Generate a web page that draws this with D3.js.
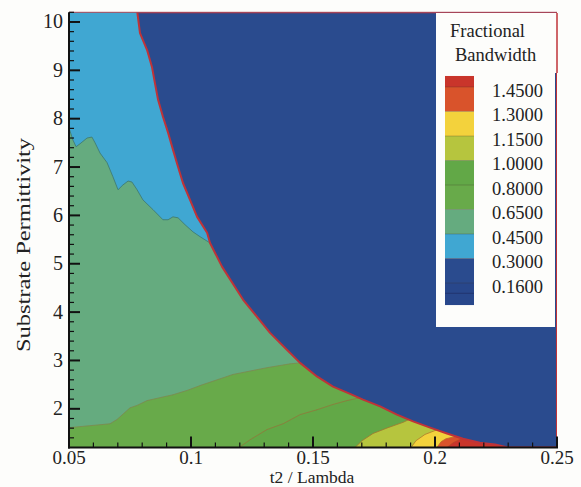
<!DOCTYPE html>
<html>
<head>
<meta charset="utf-8">
<script src="https://cdn.jsdelivr.net/npm/d3@7"></script>
<style>
  html, body { margin: 0; padding: 0; background: #fdfdfb; }
  svg { display: block; }
  text { font-family: "Liberation Serif", "Times New Roman", serif; fill: #222; }
</style>
</head>
<body>
<svg id="chart" width="581" height="487"></svg>
<script>
// Axis ranges and ticks
const xDomain = [0.05, 0.25];
const yDomain = [1.2, 10.2];
const xTicks = [0.05, 0.1, 0.15, 0.2, 0.25];
const yTicks = [2, 3, 4, 5, 6, 7, 8, 9, 10];

// Contour levels shown in the legend (top to bottom) and band colours
const levels = [1.45, 1.30, 1.15, 1.00, 0.80, 0.65, 0.45, 0.30, 0.16];
const bandColors = ["#c9352b", "#d9532b", "#f3d23c", "#b6c53e", "#62a847",
                    "#68aa4a", "#65ab7f", "#40a7d2", "#2a4b8e", "#28478b"];

// Edge of the low-bandwidth zone (jump to < 0.30), [t2/lambda, permittivity]
const blueEdge = [[0.078,10.2],[0.0791,9.77],[0.0820,9.42],[0.0840,9.07],[0.0852,8.74],
  [0.0865,8.39],[0.0885,8.04],[0.0906,7.71],[0.0926,7.36],[0.0947,7.00],[0.0967,6.67],
  [0.0996,6.32],[0.1025,5.97],[0.1066,5.64],[0.1078,5.43],[0.1127,4.94],[0.1213,4.26],
  [0.1324,3.57],[0.1393,3.22],[0.1447,2.95],[0.1516,2.67],[0.1582,2.46],[0.1652,2.31],
  [0.1705,2.19],[0.1775,2.05],[0.1844,1.88],[0.1910,1.74],[0.1980,1.61],[0.2049,1.49],
  [0.2115,1.38],[0.2184,1.30],[0.2246,1.26],[0.2299,1.2]];

// Iso-lines of fractional bandwidth
const contour045 = [[0.05,7.81],[0.0516,7.56],[0.0529,7.42],[0.0545,7.48],[0.0574,7.60],
  [0.0594,7.62],[0.0607,7.50],[0.0627,7.29],[0.0656,7.09],[0.0680,6.80],[0.0701,6.53],
  [0.0721,6.63],[0.0742,6.71],[0.0758,6.69],[0.0779,6.53],[0.0803,6.32],[0.0844,6.12],
  [0.0885,5.91],[0.0906,5.91],[0.0926,5.97],[0.0947,5.95],[0.0975,5.81],[0.1008,5.66],
  [0.1037,5.56],[0.1078,5.43]];
const contour065 = [[0.05,1.61],[0.0668,1.69],[0.0697,1.78],[0.0750,2.02],[0.0779,2.07],
  [0.0820,2.17],[0.0873,2.23],[0.0926,2.29],[0.0984,2.38],[0.1037,2.48],[0.1172,2.71],
  [0.1311,2.85],[0.1406,2.93],[0.1447,2.95]];
const contour080 = [[0.1197,1.2],[0.1242,1.36],[0.1311,1.57],[0.1377,1.69],[0.1447,1.88],
  [0.1516,1.98],[0.1582,2.09],[0.1639,2.17],[0.1693,2.23]];
const contour100 = [[0.1672,1.2],[0.1701,1.34],[0.1746,1.49],[0.1807,1.61],[0.1869,1.72],
  [0.1898,1.79]];
const contour115 = [[0.1902,1.2],[0.1922,1.34],[0.1959,1.47],[0.2000,1.55],[0.2020,1.59]];
const contour130 = [[0.2008,1.2],[0.2025,1.32],[0.2045,1.38],[0.2086,1.43]];
const contour145 = [[0.2049,1.2],[0.2075,1.30],[0.2100,1.36],[0.2115,1.38]];

const svg = d3.select("#chart");
const x = d3.scaleLinear().domain(xDomain).range([69, 557]);
const y = d3.scaleLinear().domain(yDomain).range([447.5, 12.3]);
const line = d3.line().x(d => x(d[0])).y(d => y(d[1]));

svg.append("defs").append("clipPath").attr("id", "plotClip")
  .append("rect").attr("x", x(xDomain[0])).attr("y", y(yDomain[1]))
  .attr("width", x(xDomain[1]) - x(xDomain[0])).attr("height", y(yDomain[0]) - y(yDomain[1]));

const plot = svg.append("g").attr("clip-path", "url(#plotClip)");

// Base band: 0.45 - 0.65
plot.append("rect").attr("x", x(xDomain[0])).attr("y", y(yDomain[1]))
  .attr("width", x(xDomain[1]) - x(xDomain[0])).attr("height", y(yDomain[0]) - y(yDomain[1]))
  .attr("fill", bandColors[6]);

const TR = [xDomain[1], yDomain[1]], TL = [xDomain[0], yDomain[1]];
const BR = [xDomain[1], yDomain[0]], BL = [xDomain[0], yDomain[0]];

// Filled bands; the low zone is painted over them afterwards
const fills = [
  { pts: contour045.concat([TR, TL]), color: bandColors[7] },
  { pts: contour065.concat([BR, BL]), color: bandColors[5] },
  { pts: contour080.concat([BR]), color: bandColors[4] },
  { pts: contour100.concat([BR]), color: bandColors[3] },
  { pts: contour115.concat([BR]), color: bandColors[2] },
  { pts: contour130.concat([BR]), color: bandColors[1] },
  { pts: contour145.concat([BR]), color: bandColors[0] }
];
fills.forEach(f => {
  plot.append("path").attr("d", line(f.pts) + "Z").attr("fill", f.color);
});

// Iso-lines
const isoLines = [
  { pts: contour045, color: "#3f7a72" },
  { pts: contour065, color: "#7d8a50" },
  { pts: contour080, color: "#8e7a3c" },
  { pts: contour100, color: "#a07a30" },
  { pts: contour115, color: "#b5802c" },
  { pts: contour130, color: "#c0682a" },
  { pts: contour145, color: "#b8442a" }
];
isoLines.forEach(l => {
  plot.append("path").attr("d", line(l.pts)).attr("fill", "none")
    .attr("stroke", l.color).attr("stroke-width", 1).attr("stroke-opacity", 0.85);
});

// Low-bandwidth zone with its red edge
plot.append("path").attr("d", line(blueEdge.concat([BR, TR])) + "Z")
  .attr("fill", bandColors[8]).attr("stroke", "#bf3338").attr("stroke-width", 2)
  .attr("stroke-linejoin", "round");

// Top frame line
svg.append("line").attr("x1", x(xDomain[0])).attr("x2", x(xDomain[1]))
  .attr("y1", y(yDomain[1])).attr("y2", y(yDomain[1]))
  .attr("stroke", "#a8475a").attr("stroke-width", 1);

// Legend panel
const legend = svg.append("g");
legend.append("rect").attr("x", 436).attr("y", 13).attr("width", 119).attr("height", 314)
  .attr("fill", "#fdfdfb");
legend.append("rect").attr("x", 436).attr("y", 13).attr("width", 121).attr("height", 60)
  .attr("fill", "#fdfdfb");
legend.append("line").attr("x1", 557).attr("x2", 557).attr("y1", 13).attr("y2", 73)
  .attr("stroke", "#bf3338").attr("stroke-width", 1.5);
legend.append("text").attr("x", 450).attr("y", 37).attr("font-size", 18.5).text("Fractional");
legend.append("text").attr("x", 455).attr("y", 61).attr("font-size", 18.5).text("Bandwidth");

const ly = d3.scaleLinear().domain([0, levels.length - 1]).range([87, 283]);
const step = ly(1) - ly(0);
const bandEdges = [ly(0) - step * 0.45].concat(levels.map((d, i) => ly(i)), [ly(levels.length - 1) + step * 0.9]);
bandColors.forEach((c, i) => {
  legend.append("rect").attr("x", 445).attr("y", bandEdges[i]).attr("width", 29)
    .attr("height", bandEdges[i + 1] - bandEdges[i]).attr("fill", c);
});
levels.forEach((lv, i) => {
  legend.append("line").attr("x1", 445).attr("x2", 474).attr("y1", ly(i)).attr("y2", ly(i))
    .attr("stroke", "rgba(60,40,30,0.25)").attr("stroke-width", 1);
  legend.append("text").attr("x", 492).attr("y", ly(i) + 9.5).attr("font-size", 18.5)
    .text(d3.format(".4f")(lv));
});
legend.append("line").attr("x1", 445).attr("x2", 474)
  .attr("y1", ly(levels.length - 1) + step * 0.42).attr("y2", ly(levels.length - 1) + step * 0.42)
  .attr("stroke", "rgba(20,20,60,0.35)").attr("stroke-width", 1);

// Axes
const xAxisG = svg.append("g");
xAxisG.append("line").attr("x1", x(xDomain[0]) - 1).attr("x2", x(xDomain[1]) + 1)
  .attr("y1", y(yDomain[0])).attr("y2", y(yDomain[0])).attr("stroke", "#111").attr("stroke-width", 2);
d3.range(0.05, 0.2501, 0.01).forEach(v => {
  const isMajor = xTicks.some(t => Math.abs(t - v) < 1e-6);
  xAxisG.append("line").attr("x1", x(v)).attr("x2", x(v))
    .attr("y1", y(yDomain[0])).attr("y2", y(yDomain[0]) - (isMajor ? 11 : 5))
    .attr("stroke", "#111").attr("stroke-width", isMajor ? 2 : 1.2);
});
xTicks.forEach(v => {
  xAxisG.append("text").attr("x", x(v)).attr("y", 463.5).attr("text-anchor", "middle")
    .attr("font-size", 19).text(String(v));
});
xAxisG.append("text").attr("x", 312).attr("y", 483).attr("text-anchor", "middle")
  .attr("font-size", 17.5).text("t2 / Lambda");

const yAxisG = svg.append("g");
yAxisG.append("line").attr("x1", x(xDomain[0])).attr("x2", x(xDomain[0]))
  .attr("y1", y(yDomain[1])).attr("y2", y(yDomain[0]) + 1).attr("stroke", "#111").attr("stroke-width", 2);
d3.range(1.4, 10.201, 0.2).forEach(v => {
  const isMajor = yTicks.some(t => Math.abs(t - v) < 1e-6);
  yAxisG.append("line").attr("x1", x(xDomain[0])).attr("x2", x(xDomain[0]) + (isMajor ? 11 : 5))
    .attr("y1", y(v)).attr("y2", y(v))
    .attr("stroke", "#111").attr("stroke-width", isMajor ? 2 : 1.2);
});
yTicks.forEach(v => {
  yAxisG.append("text").attr("x", 63).attr("y", y(v) + 6.5).attr("text-anchor", "end")
    .attr("font-size", 20).text(String(v));
});
yAxisG.append("text").attr("transform", "translate(30,245) rotate(-90)")
  .attr("text-anchor", "middle").attr("font-size", 19)
  .attr("textLength", 214).attr("lengthAdjust", "spacingAndGlyphs")
  .text("Substrate Permittivity");
</script>
</body>
</html>
